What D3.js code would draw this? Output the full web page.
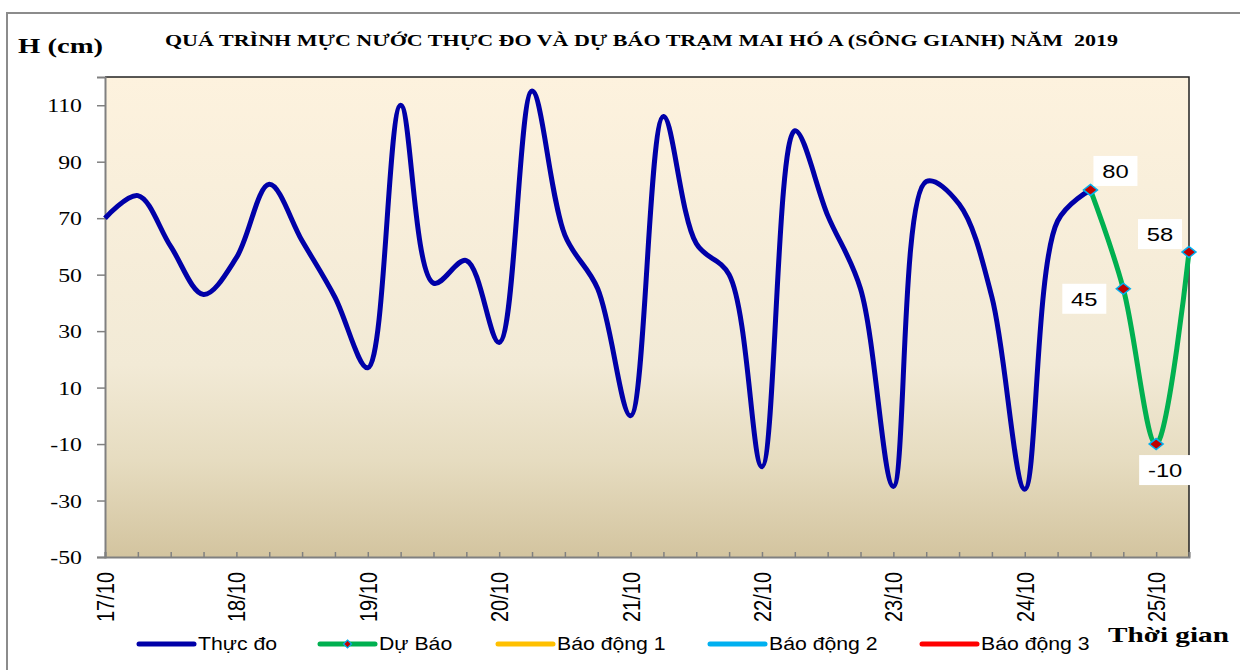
<!DOCTYPE html>
<html>
<head>
<meta charset="utf-8">
<script src="https://cdn.jsdelivr.net/npm/d3@7"></script>
<style>
  body { margin: 0; background: #fff; }
  svg { display: block; }
</style>
</head>
<body>
<svg id="chart" width="1240" height="670"></svg>
<script>
// ===== Water level chart: Mai Hoa station (Gianh river) 2019 =====

// 6-hourly steps, labels every 4 steps (one per day)
const dayLabels = ["17/10", "18/10", "19/10", "20/10", "21/10", "22/10", "23/10", "24/10", "25/10"];
const stepsPerDay = 4;
const stepCount = 34;

// measured (Thực đo), steps 0..30
const observed = [70, 78, 60, 43, 56, 82, 62, 42, 17, 110, 47, 55, 26, 115, 64, 45,
                  0, 106, 61, 50, -18, 101, 71, 45, -25, 83, 75, 42, -26, 69, 80];
// forecast (Dự Báo), steps 30..33
const forecastStart = 30;
const forecast = [80, 45, -10, 58];

const yTicks = [-50, -30, -10, 10, 30, 50, 70, 90, 110];

const legendNames = ["Thực đo", "Dự Báo", "Báo động 1", "Báo động 2", "Báo động 3"];
const legendColors = ["#0000a8", "#00b050", "#ffc000", "#00b0f0", "#ff0000"];

// manual data label offsets (dx, dy) like the Excel original
const labelOffsets = [[25, -19], [-39, 10], [9, 26], [-29, -18]];

const svg = d3.select("#chart");
const W = 1240, H = 670;
const plot = { left: 105, right: 1189, top: 77, bottom: 557 };

const x = d3.scalePoint()
    .domain(d3.range(stepCount))
    .range([plot.left, plot.right]);

const y = d3.scaleLinear()
    .domain([-50, 120])
    .range([plot.bottom, plot.top]);

// outer frame
svg.append("rect")
    .attr("x", 7).attr("y", 13)
    .attr("width", W + 20).attr("height", H + 20)
    .attr("fill", "none")
    .attr("stroke", "#8c8c8c")
    .attr("stroke-width", 2);

// plot area background
const defs = svg.append("defs");
const grad = defs.append("linearGradient")
    .attr("id", "bg").attr("x1", 0).attr("y1", 0).attr("x2", 0).attr("y2", 1);
grad.append("stop").attr("offset", "0").attr("stop-color", "#fdf2de");
grad.append("stop").attr("offset", "0.6").attr("stop-color", "#f2ead6");
grad.append("stop").attr("offset", "0.8").attr("stop-color", "#e6dcc0");
grad.append("stop").attr("offset", "1").attr("stop-color", "#d3c49f");

svg.append("rect")
    .attr("x", plot.left).attr("y", plot.top)
    .attr("width", plot.right - plot.left)
    .attr("height", plot.bottom - plot.top)
    .attr("fill", "url(#bg)");

// top + right border of plot
svg.append("path")
    .attr("d", `M${plot.left},${plot.top}H${plot.right}V${plot.bottom}`)
    .attr("fill", "none")
    .attr("stroke", "#222")
    .attr("stroke-width", 1.5);

// y axis
const yAxis = svg.append("g")
    .attr("transform", `translate(${plot.left},0)`)
    .call(d3.axisLeft(y).tickValues(yTicks).tickSize(8).tickPadding(0)
        .tickFormat(d => String(d)));
yAxis.select(".domain").attr("stroke", "#808080").attr("stroke-width", 2);
yAxis.selectAll(".tick line").attr("stroke", "#808080").attr("stroke-width", 1.5);
yAxis.selectAll(".tick text")
    .attr("x", -23 / 1.22)
    .attr("dy", "0.34em")
    .attr("transform", "scale(1.22,1)")
    .attr("font-family", "'Liberation Serif', 'Times New Roman', serif")
    .attr("font-size", 19.5)
    .attr("fill", "#000");

// x axis
const xAxis = svg.append("g")
    .attr("transform", `translate(0,${plot.bottom})`)
    .call(d3.axisBottom(x)
        .tickSize(-5)
        .tickFormat(i => i % stepsPerDay === 0 ? dayLabels[i / stepsPerDay] : ""));
xAxis.select(".domain").attr("stroke", "#808080").attr("stroke-width", 2);
xAxis.selectAll(".tick line").attr("stroke", "#808080").attr("stroke-width", 1.5);
xAxis.selectAll(".tick text")
    .attr("x", 0).attr("y", 0)
    .attr("dy", "0.35em")
    .attr("text-anchor", "end")
    .attr("transform", "translate(0,15) scale(1.22,1) rotate(-90)")
    .attr("font-family", "'Liberation Sans', Arial, sans-serif")
    .attr("font-size", 20)
    .attr("fill", "#000");

// lines (Excel-like smoothing)
const line = d3.line()
    .x(d => x(d.i))
    .y(d => y(d.v))
    .curve(d3.curveCatmullRom.alpha(0.5));

const obsData = observed.map((v, i) => ({ i, v }));
const fcData = forecast.map((v, k) => ({ i: forecastStart + k, v }));

svg.append("path")
    .datum(obsData)
    .attr("d", line)
    .attr("fill", "none")
    .attr("stroke", legendColors[0])
    .attr("stroke-width", 5)
    .attr("stroke-linejoin", "round");

svg.append("path")
    .datum(fcData)
    .attr("d", line)
    .attr("fill", "none")
    .attr("stroke", legendColors[1])
    .attr("stroke-width", 5)
    .attr("stroke-linejoin", "round");

// diamond markers
function diamond(hw, hh) {
    return `M0,${-hh}L${hw},0L0,${hh}L${-hw},0Z`;
}

svg.selectAll(".marker")
    .data(fcData)
    .join("path")
    .attr("class", "marker")
    .attr("transform", d => `translate(${x(d.i)},${y(d.v)})`)
    .attr("d", diamond(7, 5.5))
    .attr("fill", "#c00000")
    .attr("stroke", "#00b0f0")
    .attr("stroke-width", 1.5);

// data labels
const labels = svg.selectAll(".dlabel")
    .data(fcData)
    .join("g")
    .attr("class", "dlabel")
    .attr("transform", (d, k) =>
        `translate(${x(d.i) + labelOffsets[k][0]},${y(d.v) + labelOffsets[k][1]})`);

labels.append("rect")
    .attr("x", d => d.v < 0 ? -26 : -22)
    .attr("y", -15)
    .attr("width", d => d.v < 0 ? 52 : 44)
    .attr("height", 30)
    .attr("fill", "#fff");

labels.append("text")
    .attr("transform", "scale(1.25,1)")
    .attr("text-anchor", "middle")
    .attr("dy", "0.36em")
    .attr("font-family", "'Liberation Sans', Arial, sans-serif")
    .attr("font-size", 19)
    .attr("fill", "#000")
    .text(d => d.v);

// titles
svg.append("text")
    .attr("x", 18).attr("y", 53)
    .attr("textLength", 85)
    .attr("lengthAdjust", "spacingAndGlyphs")
    .attr("font-family", "'Liberation Serif', 'Times New Roman', serif")
    .attr("font-weight", "bold")
    .attr("font-size", 22)
    .text("H (cm)");

svg.append("text")
    .attr("x", 165).attr("y", 46)
    .attr("textLength", 953)
    .attr("lengthAdjust", "spacingAndGlyphs")
    .attr("font-family", "'Liberation Serif', 'Times New Roman', serif")
    .attr("font-weight", "bold")
    .attr("font-size", 16.5)
    .attr("xml:space", "preserve")
    .text("QUÁ TRÌNH MỰC NƯỚC THỰC ĐO VÀ DỰ BÁO TRẠM MAI HÓ A (SÔNG GIANH) NĂM  2019");

svg.append("text")
    .attr("x", 1108).attr("y", 642)
    .attr("textLength", 121)
    .attr("lengthAdjust", "spacingAndGlyphs")
    .attr("font-family", "'Liberation Serif', 'Times New Roman', serif")
    .attr("font-weight", "bold")
    .attr("font-size", 21)
    .text("Thời gian");

// legend
const legendX = [139, 320, 498, 710, 922];
const legendY = 644;
const lineLen = 55;

const legend = svg.selectAll(".legend")
    .data(legendNames)
    .join("g")
    .attr("class", "legend")
    .attr("transform", (d, k) => `translate(${legendX[k]},${legendY})`);

legend.append("line")
    .attr("x1", 0).attr("x2", lineLen)
    .attr("stroke", (d, k) => legendColors[k])
    .attr("stroke-width", 5)
    .attr("stroke-linecap", "round");

legend.filter((d, k) => k === 1)
    .append("path")
    .attr("transform", `translate(${lineLen / 2},0)`)
    .attr("d", diamond(4, 4))
    .attr("fill", "#c00000")
    .attr("stroke", "#00b0f0")
    .attr("stroke-width", 1.2);

legend.append("text")
    .attr("transform", `translate(${lineLen + 4},0) scale(1.18,1)`)
    .attr("dy", "0.36em")
    .attr("font-family", "'Liberation Sans', Arial, sans-serif")
    .attr("font-size", 18)
    .attr("fill", "#000")
    .text(d => d);
</script>
</body>
</html>
